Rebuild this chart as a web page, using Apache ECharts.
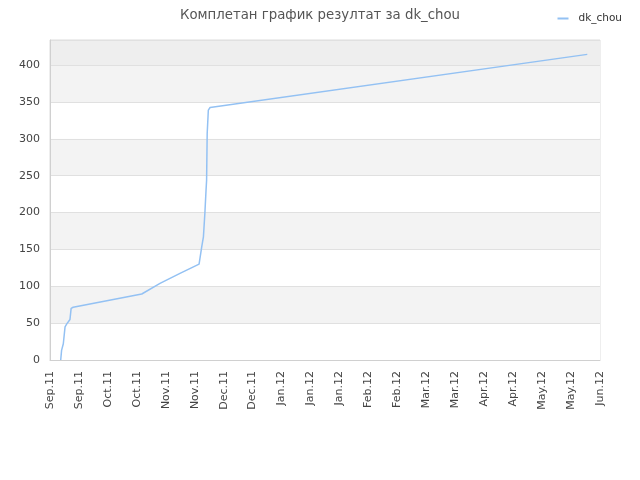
<!DOCTYPE html>
<html>
<head>
<meta charset="utf-8">
<script src="https://cdn.jsdelivr.net/npm/echarts@6/dist/echarts.min.js"></script>
<style>
html,body{margin:0;padding:0;background:#fff;}
#chart{width:640px;height:480px;}
</style>
</head>
<body>
<div id="chart"></div>
<script>
// tick labels along the x axis (one per tick)
var xLabels = ['Sep.11','Sep.11','Oct.11','Oct.11','Nov.11','Nov.11','Dec.11','Dec.11',
    'Jan.12','Jan.12','Jan.12','Feb.12','Feb.12','Mar.12','Mar.12','Apr.12','Apr.12',
    'May.12','May.12','Jun.12'];
// x position in tick units, y = score
var xPos = [0.37, 0.40, 0.46, 0.52, 0.58, 0.69, 0.73, 0.80, 3.17, 3.80, 4.49, 5.15,
    5.24, 5.30, 5.35, 5.39, 5.41, 5.43, 5.47, 5.53, 18.56];
var scores = [0, 13, 22, 45, 49, 55, 70, 71.5, 89.5, 104, 117.5, 130,
    153, 167, 199, 230, 244, 307, 339, 342.5, 414.5];
var bandColors = ['#ffffff','#f3f3f3','#ffffff','#f3f3f3','#ffffff','#f3f3f3','#ffffff','#f3f3f3','#eeeeee'];

var points = xPos.map(function(x, i){ return [x, scores[i]]; });

var myChart = echarts.init(document.getElementById('chart'));
myChart.setOption({
    animation:false,
    textStyle:{fontFamily:'DejaVu Sans'},
    title:{
        text:'Комплетан график резултат за dk_chou',
        left:'center',
        top:4,
        textStyle:{fontSize:13.3,fontWeight:'normal',color:'#555',fontFamily:'DejaVu Sans'}
    },
    legend:{
        right:13,
        top:8,
        itemWidth:11,
        itemHeight:2,
        icon:'rect',
        textStyle:{fontSize:10.5,color:'#333',padding:[0,0,0,5]},
        data:['dk_chou']
    },
    grid:{
        left:50,
        right:40,
        top:40,
        bottom:120,
        show:true,
        borderColor:'#dddddd',
        borderWidth:1
    },
    xAxis:{
        type:'value',
        min:0,
        max:xLabels.length - 1,
        interval:1,
        axisLine:{show:true,lineStyle:{color:'#d0d0d0'}},
        axisTick:{show:false},
        splitLine:{show:false},
        axisLabel:{
            rotate:90,
            fontSize:11,
            color:'#444',
            margin:11,
            formatter:function(v){ return xLabels[Math.round(v)] || ''; }
        }
    },
    yAxis:{
        type:'value',
        min:0,
        max:434,
        interval:50,
        axisLine:{show:true,lineStyle:{color:'#d0d0d0'}},
        axisTick:{show:false},
        axisLabel:{
            fontSize:11,
            color:'#444',
            margin:10,
            showMaxLabel:false,
            formatter:function(v){ return v % 50 === 0 ? v : ''; }
        },
        splitLine:{show:true,lineStyle:{color:'#e0e0e0'}},
        splitArea:{show:true,areaStyle:{color:bandColors}}
    },
    series:[{
        name:'dk_chou',
        type:'line',
        showSymbol:false,
        symbol:'none',
        color:'#93c1f3',
        lineStyle:{width:1.5,color:'#93c1f3'},
        data:points
    }]
});
</script>
</body>
</html>
